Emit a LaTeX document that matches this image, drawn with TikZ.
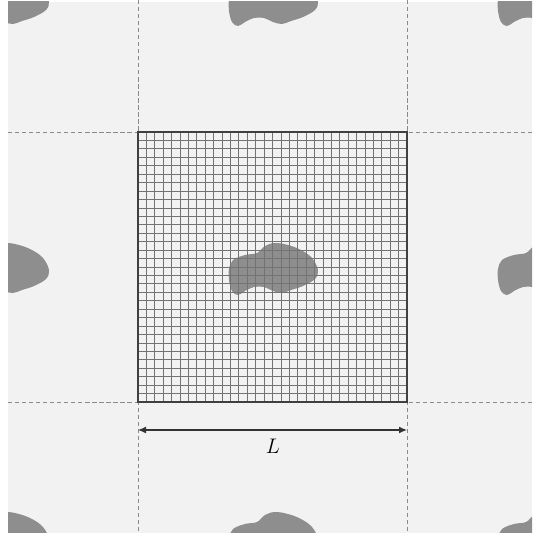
\documentclass[tikz,border=0pt]{standalone}
\usetikzlibrary{arrows.meta}
\definecolor{bggray}{HTML}{F2F2F2}
\definecolor{blobgray}{HTML}{8E8E8E}
\definecolor{linegray}{HTML}{8A8A8A}

\begin{document}
\begin{tikzpicture}[
    x=0.02cm, y=-0.02cm,
    cellline/.style={draw=linegray, line width=0.5pt, dash pattern=on 2.4pt off 1.6pt},
    gridline/.style={draw=black!55, line width=0.45pt},
    frame/.style={draw=black!75, line width=0.8pt},
    dimarrow/.style={{Latex[length=1.6mm,width=1.4mm]}-{Latex[length=1.6mm,width=1.4mm]}, line width=0.7pt, draw=black!80},
    blob/.pic={\fill[blobgray] plot[smooth cycle, tension=0.6] coordinates {
        (-44,1) (-40,-8) (-28,-13) (-16,-15) (-8,-22) (2,-25) (15,-23) (28,-18)
        (39,-10) (45,2) (42,11) (30,18) (18,22) (9,25) (0,23) (-9,19)
        (-19,19) (-28,23) (-35,27) (-41,23) (-44,12)};}
]
\useasboundingbox (0,0) rectangle (532,533);
\fill[bggray] (8,2) rectangle (532,533);

% periodic images of the particle
\begin{scope}
  \clip (8,2) rectangle (532,533);
  \foreach \dx in {-269,0,269}
    \foreach \dy in {-269,0,269}
      \pic at ({273+\dx},{268+\dy}) {blob};
\end{scope}

% cell boundaries
\draw[cellline] (138,0) -- (138,533);
\draw[cellline] (407,0) -- (407,533);
\draw[cellline] (8,132) -- (532,132);
\draw[cellline] (8,402) -- (532,402);

% mesh of the central cell
\foreach \i in {1,...,31} {
  \draw[gridline] ({138+\i*269/32},132) -- ({138+\i*269/32},402);
  \draw[gridline] (138,{132+\i*270/32}) -- (407,{132+\i*270/32});
}
\draw[frame] (138,132) rectangle (407,402);

% period length
\coordinate (lend) at (138,430);
\coordinate (rend) at (407,430);
\draw[dimarrow] (lend) -- (rend);
\node[font=\large] (len) at (273,446) {$L$};
\end{tikzpicture}
\end{document}
